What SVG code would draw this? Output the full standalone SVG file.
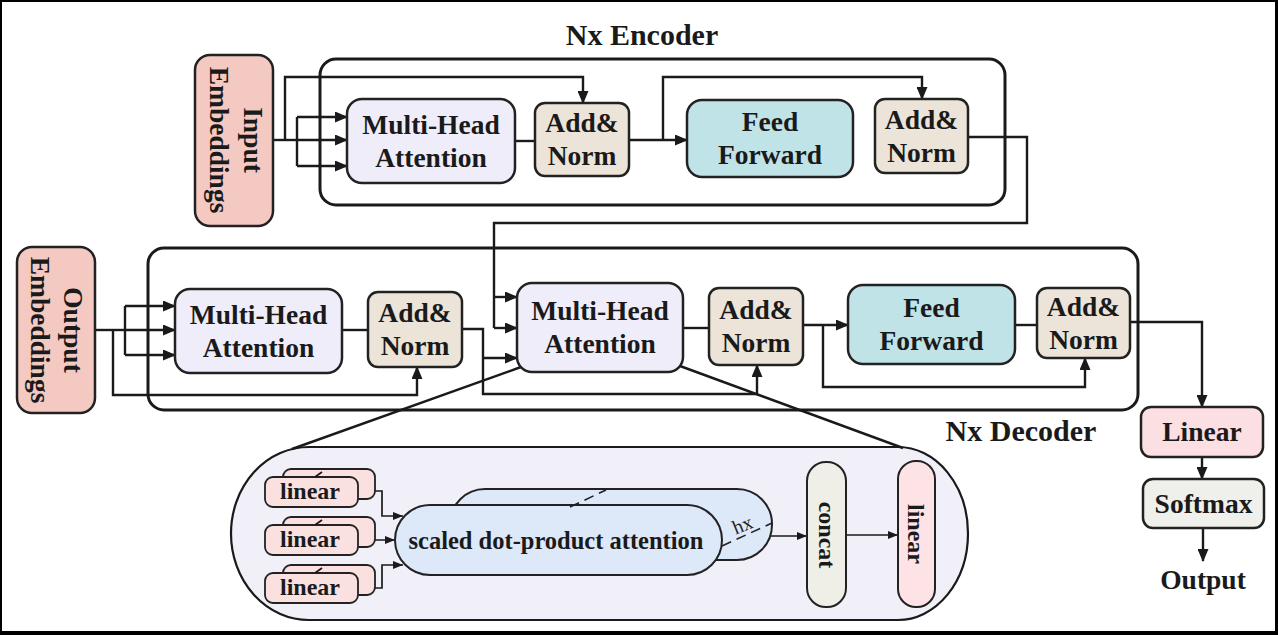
<svg xmlns="http://www.w3.org/2000/svg" width="1278" height="635" viewBox="0 0 1278 635">
<defs>
<marker id="ah" markerUnits="userSpaceOnUse" markerWidth="13" markerHeight="11" refX="12" refY="5.5" orient="auto">
<path d="M0,0 L13,5.5 L0,11 z" fill="#1a1a1a"/>
</marker>
<marker id="ahs" markerUnits="userSpaceOnUse" markerWidth="10" markerHeight="8" refX="10" refY="4" orient="auto">
<path d="M0,0 L10,4 L0,8 z" fill="#1a1a1a"/>
</marker>
</defs>
<style>
.t{font-family:'Liberation Serif',serif;font-weight:700;fill:#1a1a1a;text-anchor:middle}
.lbl{font-size:27.5px}
.sm{font-size:24px}
.ttl{font-size:30px}
.box{stroke:#222;stroke-width:2.5}
.cont{fill:none;stroke:#1a1a1a;stroke-width:3}
.c{fill:none;stroke:#1a1a1a;stroke-width:2.4}
.cs{fill:none;stroke:#1a1a1a;stroke-width:1.7}
.emb{fill:#f4c9c2}
.mha{fill:#efedf9}
.an{fill:#ece4d9}
.ff{fill:#bfe3e7}
.lin{fill:#fbdfe3}
.soft{fill:#efefeb}
</style>
<rect x="0" y="0" width="1278" height="635" fill="#000"/>
<rect x="2" y="2" width="1273" height="629" fill="#fff"/>

<text class="t ttl" x="642" y="45">Nx Encoder</text>
<text class="t ttl" x="1021" y="441">Nx Decoder</text>

<g id="encoder-container"><rect class="cont" x="320" y="59" width="685" height="146" rx="16"/></g>
<g id="decoder-container"><rect class="cont" x="148" y="248" width="990" height="162" rx="16"/></g>

<g id="mha-detail">
<path d="M309 447 H898 A70 86.5 0 0 1 898 620 H309 A78 86.5 0 0 1 309 447 Z" fill="#f1eff8" stroke="#1a1a1a" stroke-width="2.2"/>
</g>

<g id="connectors">
<path class="c" d="M273 140 H297"/>
<path class="c" d="M285 140 V77 H583 V103" marker-end="url(#ah)"/>
<path class="c" d="M297 117 V166"/>
<path class="c" d="M297 117 H347" marker-end="url(#ah)"/>
<path class="c" d="M297 140 H347" marker-end="url(#ah)"/>
<path class="c" d="M297 166 H347" marker-end="url(#ah)"/>
<path class="c" d="M515 141 H535"/>
<path class="c" d="M629 140 H687" marker-end="url(#ah)"/>
<path class="c" d="M663 140 V77 H922 V99" marker-end="url(#ah)"/>
<path class="c" d="M968 137 H1027 V223 H494 V328"/>
<path class="c" d="M494 297 H517" marker-end="url(#ah)"/>
<path class="c" d="M494 328 H517" marker-end="url(#ah)"/>
<path class="c" d="M95 330 H125"/>
<path class="c" d="M113 330 V395 H417 V367" marker-end="url(#ah)"/>
<path class="c" d="M125 306 V355"/>
<path class="c" d="M125 306 H175" marker-end="url(#ah)"/>
<path class="c" d="M125 330 H175" marker-end="url(#ah)"/>
<path class="c" d="M125 355 H175" marker-end="url(#ah)"/>
<path class="c" d="M342 330 H368"/>
<path class="c" d="M462 329 H483 V394 H757 V365" marker-end="url(#ah)"/>
<path class="c" d="M483 358 H517" marker-end="url(#ah)"/>
<path class="c" d="M683 328 H709"/>
<path class="c" d="M803 325 H848" marker-end="url(#ah)"/>
<path class="c" d="M823 325 V387 H1085 V358" marker-end="url(#ah)"/>
<path class="c" d="M1015 325 H1037"/>
<path class="c" d="M1130 322 H1202 V407" marker-end="url(#ah)"/>
<path class="c" d="M1202 457 V479" marker-end="url(#ah)"/>
<path class="c" d="M1203 528 V561" marker-end="url(#ah)"/>
<path class="c" d="M521 367 L292 449"/>
<path class="c" d="M680 366 L903 448"/>
<path class="cs" d="M360 491 H382 V516 H403" marker-end="url(#ahs)"/>
<path class="cs" d="M360 540 H395" marker-end="url(#ahs)"/>
<path class="cs" d="M360 588 H382 V565 H403" marker-end="url(#ahs)"/>
<path class="cs" d="M748 536 H807" marker-end="url(#ahs)"/>
<path class="cs" d="M846 535 H898" marker-end="url(#ahs)"/>
</g>

<g id="input-embeddings">
<rect class="box emb" x="195" y="55" width="78" height="171" rx="15"/>
<text class="t lbl" transform="translate(244,140) rotate(90)">Input</text>
<text class="t lbl" transform="translate(210,140) rotate(90)">Embeddings</text>
</g>
<g id="enc-mha">
<rect class="box mha" x="347" y="99" width="168" height="84" rx="15"/>
<text class="t lbl" x="431" y="133.5">Multi-Head</text>
<text class="t lbl" x="431" y="166.5">Attention</text>
</g>
<g id="enc-addnorm1">
<rect class="box an" x="535" y="103" width="94" height="73" rx="10"/>
<text class="t lbl" x="582" y="132">Add&amp;</text>
<text class="t lbl" x="582" y="165">Norm</text>
</g>
<g id="enc-ff">
<rect class="box ff" x="687" y="100" width="166" height="77" rx="15"/>
<text class="t lbl" x="770" y="131">Feed</text>
<text class="t lbl" x="770" y="164">Forward</text>
</g>
<g id="enc-addnorm2">
<rect class="box an" x="875" y="99" width="93" height="74" rx="10"/>
<text class="t lbl" x="921.5" y="128.5">Add&amp;</text>
<text class="t lbl" x="921.5" y="161.5">Norm</text>
</g>

<g id="output-embeddings">
<rect class="box emb" x="17" y="247" width="78" height="166" rx="15"/>
<text class="t lbl" transform="translate(64,330) rotate(90)">Output</text>
<text class="t lbl" transform="translate(31,330) rotate(90)">Embeddings</text>
</g>
<g id="dec-mha1">
<rect class="box mha" x="175" y="289" width="167" height="84" rx="15"/>
<text class="t lbl" x="258.5" y="323.5">Multi-Head</text>
<text class="t lbl" x="258.5" y="356.5">Attention</text>
</g>
<g id="dec-addnorm1">
<rect class="box an" x="368" y="292" width="94" height="75" rx="10"/>
<text class="t lbl" x="415" y="322">Add&amp;</text>
<text class="t lbl" x="415" y="355">Norm</text>
</g>
<g id="dec-mha2">
<rect class="box mha" x="517" y="283" width="166" height="89" rx="15"/>
<text class="t lbl" x="600" y="320">Multi-Head</text>
<text class="t lbl" x="600" y="353">Attention</text>
</g>
<g id="dec-addnorm2">
<rect class="box an" x="709" y="288" width="94" height="77" rx="10"/>
<text class="t lbl" x="756" y="319">Add&amp;</text>
<text class="t lbl" x="756" y="352">Norm</text>
</g>
<g id="dec-ff">
<rect class="box ff" x="848" y="285" width="167" height="79" rx="15"/>
<text class="t lbl" x="931.5" y="317">Feed</text>
<text class="t lbl" x="931.5" y="350">Forward</text>
</g>
<g id="dec-addnorm3">
<rect class="box an" x="1037" y="288" width="93" height="70" rx="10"/>
<text class="t lbl" x="1083.5" y="315.5">Add&amp;</text>
<text class="t lbl" x="1083.5" y="348.5">Norm</text>
</g>
<g id="linear-out">
<rect class="box lin" x="1141" y="407" width="122" height="50" rx="10"/>
<text class="t lbl" x="1202" y="441">Linear</text>
</g>
<g id="softmax">
<rect class="box soft" x="1143" y="479" width="121" height="49" rx="10"/>
<text class="t lbl" x="1203.5" y="513">Softmax</text>
</g>
<g id="output"><text class="t lbl" x="1203" y="589">Output</text></g>

<g id="linear-q">
<rect x="283" y="469" width="92" height="30" rx="8" fill="#fbe0e0" stroke="#222" stroke-width="1.8"/>
<rect x="265" y="477" width="93" height="30" rx="8" fill="#fbe0e0" stroke="#222" stroke-width="1.8"/>
<path class="cs" d="M315 477 L322 472"/>
<text class="t sm" x="310" y="499">linear</text>
</g>
<g id="linear-k">
<rect x="283" y="517" width="92" height="30" rx="8" fill="#fbe0e0" stroke="#222" stroke-width="1.8"/>
<rect x="265" y="525" width="93" height="30" rx="8" fill="#fbe0e0" stroke="#222" stroke-width="1.8"/>
<path class="cs" d="M315 525 L322 520"/>
<text class="t sm" x="310" y="547">linear</text>
</g>
<g id="linear-v">
<rect x="283" y="565" width="92" height="30" rx="8" fill="#fbe0e0" stroke="#222" stroke-width="1.8"/>
<rect x="265" y="573" width="93" height="30" rx="8" fill="#fbe0e0" stroke="#222" stroke-width="1.8"/>
<path class="cs" d="M315 573 L322 568"/>
<text class="t sm" x="310" y="595">linear</text>
</g>
<g id="sdpa">
<rect x="450" y="489" width="322" height="71" rx="35" fill="#dde8f8" stroke="#222" stroke-width="2"/>
<rect x="395" y="505" width="327" height="70" rx="35" fill="#dde8f8" stroke="#222" stroke-width="2"/>
<path d="M570 507 L606 490" stroke="#222" stroke-width="1.6" stroke-dasharray="10 6" fill="none"/>
<path d="M722 546 L772 523" stroke="#222" stroke-width="1.6" stroke-dasharray="10 6" fill="none"/>
<text class="t" font-size="24.5" x="556" y="549">scaled dot-product attention</text>
<text x="0" y="0" transform="translate(745,531) rotate(-22)" font-family="'Liberation Serif', serif" font-size="20" fill="#222" text-anchor="middle">hx</text>
</g>
<g id="concat">
<rect x="807" y="462" width="39" height="145" rx="19" fill="#efefe8" stroke="#222" stroke-width="2"/>
<text class="t sm" transform="translate(819,535) rotate(90)">concat</text>
</g>
<g id="linear-final">
<rect x="898" y="461" width="37" height="146" rx="18" fill="#fde2e6" stroke="#222" stroke-width="2"/>
<text class="t sm" transform="translate(908,534) rotate(90)">linear</text>
</g>
</svg>
